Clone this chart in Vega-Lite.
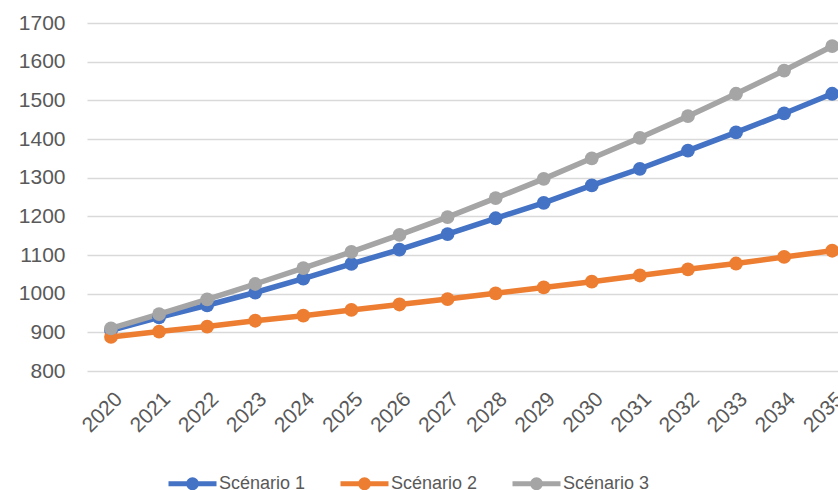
{
  "$schema": "https://vega.github.io/schema/vega-lite/v6.json",
  "width": 751,
  "height": 348,
  "autosize": {"type": "none"},
  "padding": {"left": 87, "top": 23, "right": 0, "bottom": 119},
  "background": "white",
  "config": {
    "view": {"stroke": null},
    "font": "Liberation Sans"
  },
  "data": {
    "values": [
      {"scenario": "Scénario 1", "year": "2020", "value": 905},
      {"scenario": "Scénario 1", "year": "2021", "value": 939},
      {"scenario": "Scénario 1", "year": "2022", "value": 970},
      {"scenario": "Scénario 1", "year": "2023", "value": 1003},
      {"scenario": "Scénario 1", "year": "2024", "value": 1039},
      {"scenario": "Scénario 1", "year": "2025", "value": 1077},
      {"scenario": "Scénario 1", "year": "2026", "value": 1114},
      {"scenario": "Scénario 1", "year": "2027", "value": 1154},
      {"scenario": "Scénario 1", "year": "2028", "value": 1195},
      {"scenario": "Scénario 1", "year": "2029", "value": 1235},
      {"scenario": "Scénario 1", "year": "2030", "value": 1280},
      {"scenario": "Scénario 1", "year": "2031", "value": 1323},
      {"scenario": "Scénario 1", "year": "2032", "value": 1370},
      {"scenario": "Scénario 1", "year": "2033", "value": 1417},
      {"scenario": "Scénario 1", "year": "2034", "value": 1466},
      {"scenario": "Scénario 1", "year": "2035", "value": 1517},
      {"scenario": "Scénario 2", "year": "2020", "value": 888},
      {"scenario": "Scénario 2", "year": "2021", "value": 902},
      {"scenario": "Scénario 2", "year": "2022", "value": 915},
      {"scenario": "Scénario 2", "year": "2023", "value": 930},
      {"scenario": "Scénario 2", "year": "2024", "value": 943},
      {"scenario": "Scénario 2", "year": "2025", "value": 958},
      {"scenario": "Scénario 2", "year": "2026", "value": 972},
      {"scenario": "Scénario 2", "year": "2027", "value": 986},
      {"scenario": "Scénario 2", "year": "2028", "value": 1001},
      {"scenario": "Scénario 2", "year": "2029", "value": 1016},
      {"scenario": "Scénario 2", "year": "2030", "value": 1031},
      {"scenario": "Scénario 2", "year": "2031", "value": 1047},
      {"scenario": "Scénario 2", "year": "2032", "value": 1063},
      {"scenario": "Scénario 2", "year": "2033", "value": 1078},
      {"scenario": "Scénario 2", "year": "2034", "value": 1095},
      {"scenario": "Scénario 2", "year": "2035", "value": 1111},
      {"scenario": "Scénario 3", "year": "2020", "value": 910},
      {"scenario": "Scénario 3", "year": "2021", "value": 947},
      {"scenario": "Scénario 3", "year": "2022", "value": 985},
      {"scenario": "Scénario 3", "year": "2023", "value": 1025},
      {"scenario": "Scénario 3", "year": "2024", "value": 1066},
      {"scenario": "Scénario 3", "year": "2025", "value": 1108},
      {"scenario": "Scénario 3", "year": "2026", "value": 1152},
      {"scenario": "Scénario 3", "year": "2027", "value": 1198},
      {"scenario": "Scénario 3", "year": "2028", "value": 1247},
      {"scenario": "Scénario 3", "year": "2029", "value": 1297},
      {"scenario": "Scénario 3", "year": "2030", "value": 1350},
      {"scenario": "Scénario 3", "year": "2031", "value": 1403},
      {"scenario": "Scénario 3", "year": "2032", "value": 1459},
      {"scenario": "Scénario 3", "year": "2033", "value": 1517},
      {"scenario": "Scénario 3", "year": "2034", "value": 1577},
      {"scenario": "Scénario 3", "year": "2035", "value": 1640}
    ]
  },
  "mark": {
    "type": "line",
    "strokeWidth": 5.5,
    "point": {"filled": true, "size": 190, "opacity": 1}
  },
  "encoding": {
    "x": {
      "field": "year",
      "type": "ordinal",
      "scale": {"type": "point", "padding": 0.31, "align": 0.805},
      "axis": {
        "title": null,
        "labelAngle": -45,
        "labelFontSize": 21,
        "labelColor": "#595959",
        "labelPadding": 17,
        "ticks": false,
        "domain": false,
        "grid": false
      }
    },
    "y": {
      "field": "value",
      "type": "quantitative",
      "scale": {"domain": [800, 1700], "nice": false, "zero": false},
      "axis": {
        "title": null,
        "format": "d",
        "values": [800, 900, 1000, 1100, 1200, 1300, 1400, 1500, 1600, 1700],
        "labelFontSize": 21,
        "labelColor": "#595959",
        "labelPadding": 22,
        "ticks": false,
        "domain": false,
        "grid": true,
        "gridColor": "#d9d9d9",
        "gridWidth": 1.3
      }
    },
    "color": {
      "field": "scenario",
      "type": "nominal",
      "scale": {"domain": ["Scénario 1", "Scénario 2", "Scénario 3"], "range": ["#4472C4", "#ED7D31", "#A5A5A5"]},
      "legend": {
        "title": null,
        "orient": "none",
        "direction": "horizontal",
        "legendX": 91,
        "legendY": 446,
        "symbolType": "M-2,0H2M0.333,0A0.333,0.333 0 1,1 -0.333,0A0.333,0.333 0 1,1 0.333,0M0.1,0A0.1,0.1 0 1,1 -0.1,0A0.1,0.1 0 1,1 0.1,0",
        "symbolSize": 576,
        "symbolStrokeWidth": 5,
        "symbolOpacity": 1,
        "labelFontSize": 18,
        "labelColor": "#595959",
        "labelOffset": 12,
        "columnPadding": 24,
        "labelLimit": 0
      }
    }
  }
}
